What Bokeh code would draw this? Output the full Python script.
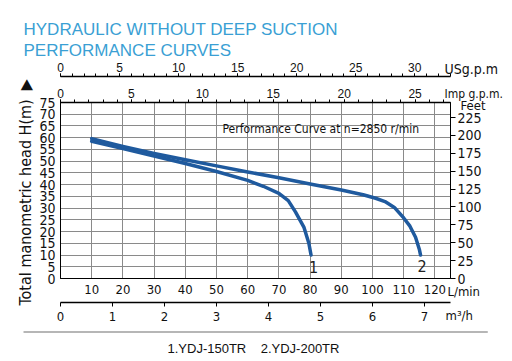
import math
from bokeh.plotting import figure
from bokeh.models import Range1d, LinearAxis, FixedTicker, Label, Title
from bokeh.embed import file_html
from bokeh.resources import INLINE

# ---------------- data ----------------
flow_150 = [10, 20, 30, 40, 50, 60, 65, 70, 73, 75.3, 78, 79.6, 80.3]
head_150 = [58.5, 55.4, 52.2, 49.0, 45.6, 41.8, 39.3, 36.3, 33.2, 28.4, 21.9, 15.0, 10.0]

flow_200 = [10, 20, 30, 40, 50, 60, 70, 80, 90, 97, 101, 104, 107, 110, 112, 113.8, 115, 115.4]
head_200 = [59.6, 56.3, 53.3, 50.6, 48.0, 45.4, 42.9, 40.3, 37.7, 35.7, 34.2, 32.8, 30.3, 25.8, 22.3, 17.6, 12.5, 10.0]

lmin_ticks = [10, 20, 30, 40, 50, 60, 70, 80, 90, 100, 110, 120]
head_ticks = [0, 5, 10, 15, 20, 25, 30, 35, 40, 45, 50, 55, 60, 65, 70, 75]
feet_ticks = [0, 25, 50, 75, 100, 125, 150, 175, 200, 225]
m3h_ticks = [0, 1, 2, 3, 4, 5, 6, 7]
imp_ticks = [0, 5, 10, 15, 20, 25]
imp_minor = list(range(0, 28))
us_ticks = [0, 5, 10, 15, 20, 25, 30]
us_minor = list(range(0, 34))

models = ["1.YDJ-150TR", "2.YDJ-200TR"]
curve_tags = ["1", "2"]
units = {"us": "USg.p.m", "imp": "Imp g.p.m.", "ft": "Feet", "lmin": "L/min", "m3h": "m\u00b3/h"}

LMIN_MAX = 125.0
H_MAX = 75.0
IMP_L = 4.546
US_L = 3.785
M3H_L = 1000.0 / 60.0
FT_M = 3.28084

BLUE = "#1f5a9e"
TITLE_BLUE = "#3a9fd4"
COND = "DejaVu Sans Condensed"
ARIAL = "Liberation Sans"
INK = "#111111"

p = figure(width=512, height=361, x_range=Range1d(0, LMIN_MAX), y_range=Range1d(0, H_MAX),
           output_backend="svg", toolbar_location=None,
           min_border_left=60, min_border_right=62, min_border_top=102, min_border_bottom=83)
p.outline_line_color = "black"
p.background_fill_color = "white"
p.border_fill_color = "white"

p.extra_x_ranges = {"imp": Range1d(0, LMIN_MAX / IMP_L), "us": Range1d(0, LMIN_MAX / US_L),
                    "m3h": Range1d(0, LMIN_MAX / M3H_L)}
p.extra_y_ranges = {"ft": Range1d(0, H_MAX * FT_M)}


def side_text(text, side, offset, standoff, size, font=COND, color=INK, valign="bottom", align="left"):
    # zero-height side-panel text: a negative standoff shifts it back over the axes
    p.add_layout(Title(text=text, align=align, offset=offset, standoff=standoff,
                       vertical_align=valign, text_font=font, text_font_size=size,
                       text_font_style="normal", text_color=color), side)


# primary x axis (L/min)
xa = p.below[0]
xa.ticker = FixedTicker(ticks=lmin_ticks)
xa.major_tick_out = 0
xa.major_tick_in = 0
xa.minor_tick_line_color = None
xa.axis_line_color = "black"
xa.major_label_standoff = 6
xa.major_label_text_font = COND
xa.major_label_text_font_size = "13px"
xa.major_label_text_color = INK
xa.axis_label = " "
xa.axis_label_text_font_size = "3px"
xa.axis_label_standoff = 0

# primary y axis (m)
ya = p.left[0]
ya.ticker = FixedTicker(ticks=head_ticks)
ya.major_tick_out = 0
ya.major_tick_in = 0
ya.minor_tick_line_color = None
ya.axis_line_color = "black"
ya.major_label_standoff = 5
ya.major_label_text_font = COND
ya.major_label_text_font_size = "14px"
ya.major_label_text_color = INK

p.xgrid.grid_line_color = "#8a8a8a"
p.ygrid.grid_line_color = "#8a8a8a"
p.xgrid.grid_line_width = 1
p.ygrid.grid_line_width = 1

# m3/h axis
ma = LinearAxis(x_range_name="m3h", ticker=FixedTicker(ticks=m3h_ticks))
ma.major_tick_out = 4
ma.major_tick_in = 0
ma.minor_tick_line_color = None
ma.axis_line_width = 1.5
ma.major_label_standoff = 5
ma.major_label_text_font = COND
ma.major_label_text_font_size = "13px"
ma.major_label_text_color = INK
ma.axis_label = " "
ma.axis_label_text_font_size = "5px"
ma.axis_label_standoff = 0
p.add_layout(ma, "below")

# unit texts at the right end of the bottom axes (zero height rows)
side_text(units["lmin"], "below", 387, -97, "13px", valign="top")
side_text(units["m3h"], "below", 385, -49, "13px", valign="top")

# separator rule under the axes
legend_standoff = 10
try:
    rule = Title(text="\u00a0", align="left", offset=-37, standoff=-2, vertical_align="top",
                 text_font=ARIAL, text_font_size="1px", text_color="#6f6f6f",
                 background_fill_color="#6f6f6f",
                 padding={"left": 0, "right": 464, "top": 0, "bottom": 0})
    p.add_layout(rule, "below")
except Exception:
    sep = LinearAxis(x_range_name="m3h", ticker=FixedTicker(ticks=[0]))
    sep.axis_line_color = "#6f6f6f"
    sep.axis_line_width = 1.5
    sep.major_tick_out = 0
    sep.major_tick_line_color = None
    sep.minor_tick_line_color = None
    sep.major_label_text_font_size = "1px"
    sep.major_label_text_alpha = 0
    p.add_layout(sep, "below")
    legend_standoff = 12

# legend line below
side_text(models[0] + "\u00a0\u00a0\u00a0\u00a0" + models[1], "below", 107, legend_standoff, "13px", font=ARIAL)

# Imp g.p.m axis
ia = LinearAxis(x_range_name="imp", ticker=FixedTicker(ticks=imp_ticks, minor_ticks=imp_minor))
ia.major_tick_out = 3
ia.major_tick_in = 0
ia.minor_tick_out = 3
ia.minor_tick_in = 0
ia.axis_line_width = 1.5
ia.major_label_standoff = 2
ia.major_label_text_font = ARIAL
ia.major_label_text_font_size = "12px"
ia.major_label_text_color = INK
ia.axis_label = " "
ia.axis_label_text_font_size = "5px"
ia.axis_label_standoff = 0
p.add_layout(ia, "above")

# US g.p.m axis
ua = LinearAxis(x_range_name="us", ticker=FixedTicker(ticks=us_ticks, minor_ticks=us_minor))
ua.major_tick_out = 3
ua.major_tick_in = 0
ua.minor_tick_out = 3
ua.minor_tick_in = 0
ua.axis_line_width = 1.5
ua.major_label_standoff = 2
ua.major_label_text_font = ARIAL
ua.major_label_text_font_size = "12px"
ua.major_label_text_color = INK
p.add_layout(ua, "above")

# unit texts at the right end of the top axes and of the feet axis (zero height rows)
side_text(units["us"], "above", 384, -34, "14px")
side_text(units["imp"], "above", 384, -83, "12px")
side_text(units["ft"], "above", 400, -107, "13px")

# chart titles
side_text("PERFORMANCE CURVES", "above", -37, 0, "17px", font=ARIAL, color=TITLE_BLUE)
side_text("HYDRAULIC WITHOUT DEEP SUCTION", "above", -37, 0, "17px", font=ARIAL, color=TITLE_BLUE)

# Feet axis
fa = LinearAxis(y_range_name="ft", ticker=FixedTicker(ticks=feet_ticks))
fa.major_tick_out = 5
fa.major_tick_in = 0
fa.minor_tick_line_color = None
fa.major_label_standoff = 2
fa.major_label_text_font = COND
fa.major_label_text_font_size = "14px"
fa.major_label_text_color = INK
p.add_layout(fa, "right")

# y axis title with the upward arrow
side_text("Total manometric head H(m)\u00a0\u00a0\u25b6", "left", -27, 3, "16px")

# curves
p.line(flow_150, head_150, line_width=3.5, line_color=BLUE, line_join="round", line_cap="round")
p.line(flow_200, head_200, line_width=3.5, line_color=BLUE, line_join="round", line_cap="round")

p.add_layout(Label(x=flow_150[-1], y=head_150[-1], text=curve_tags[0], x_offset=2.5, y_offset=-11.5,
                   text_align="center", text_baseline="middle", text_font=COND,
                   text_font_size="16px", text_color="#222222"))
p.add_layout(Label(x=flow_200[-1], y=head_200[-1], text=curve_tags[1], x_offset=1.6, y_offset=-10.5,
                   text_align="center", text_baseline="middle", text_font=COND,
                   text_font_size="16px", text_color="#222222"))

p.add_layout(Label(x=222, y=128, x_units="canvas", y_units="canvas",
                   text="Performance Curve at n=2850 r/min", text_font=COND, text_font_size="12px",
                   text_color=INK, text_align="left", text_baseline="middle"))

open("out.html", "w").write(file_html(p, INLINE))
